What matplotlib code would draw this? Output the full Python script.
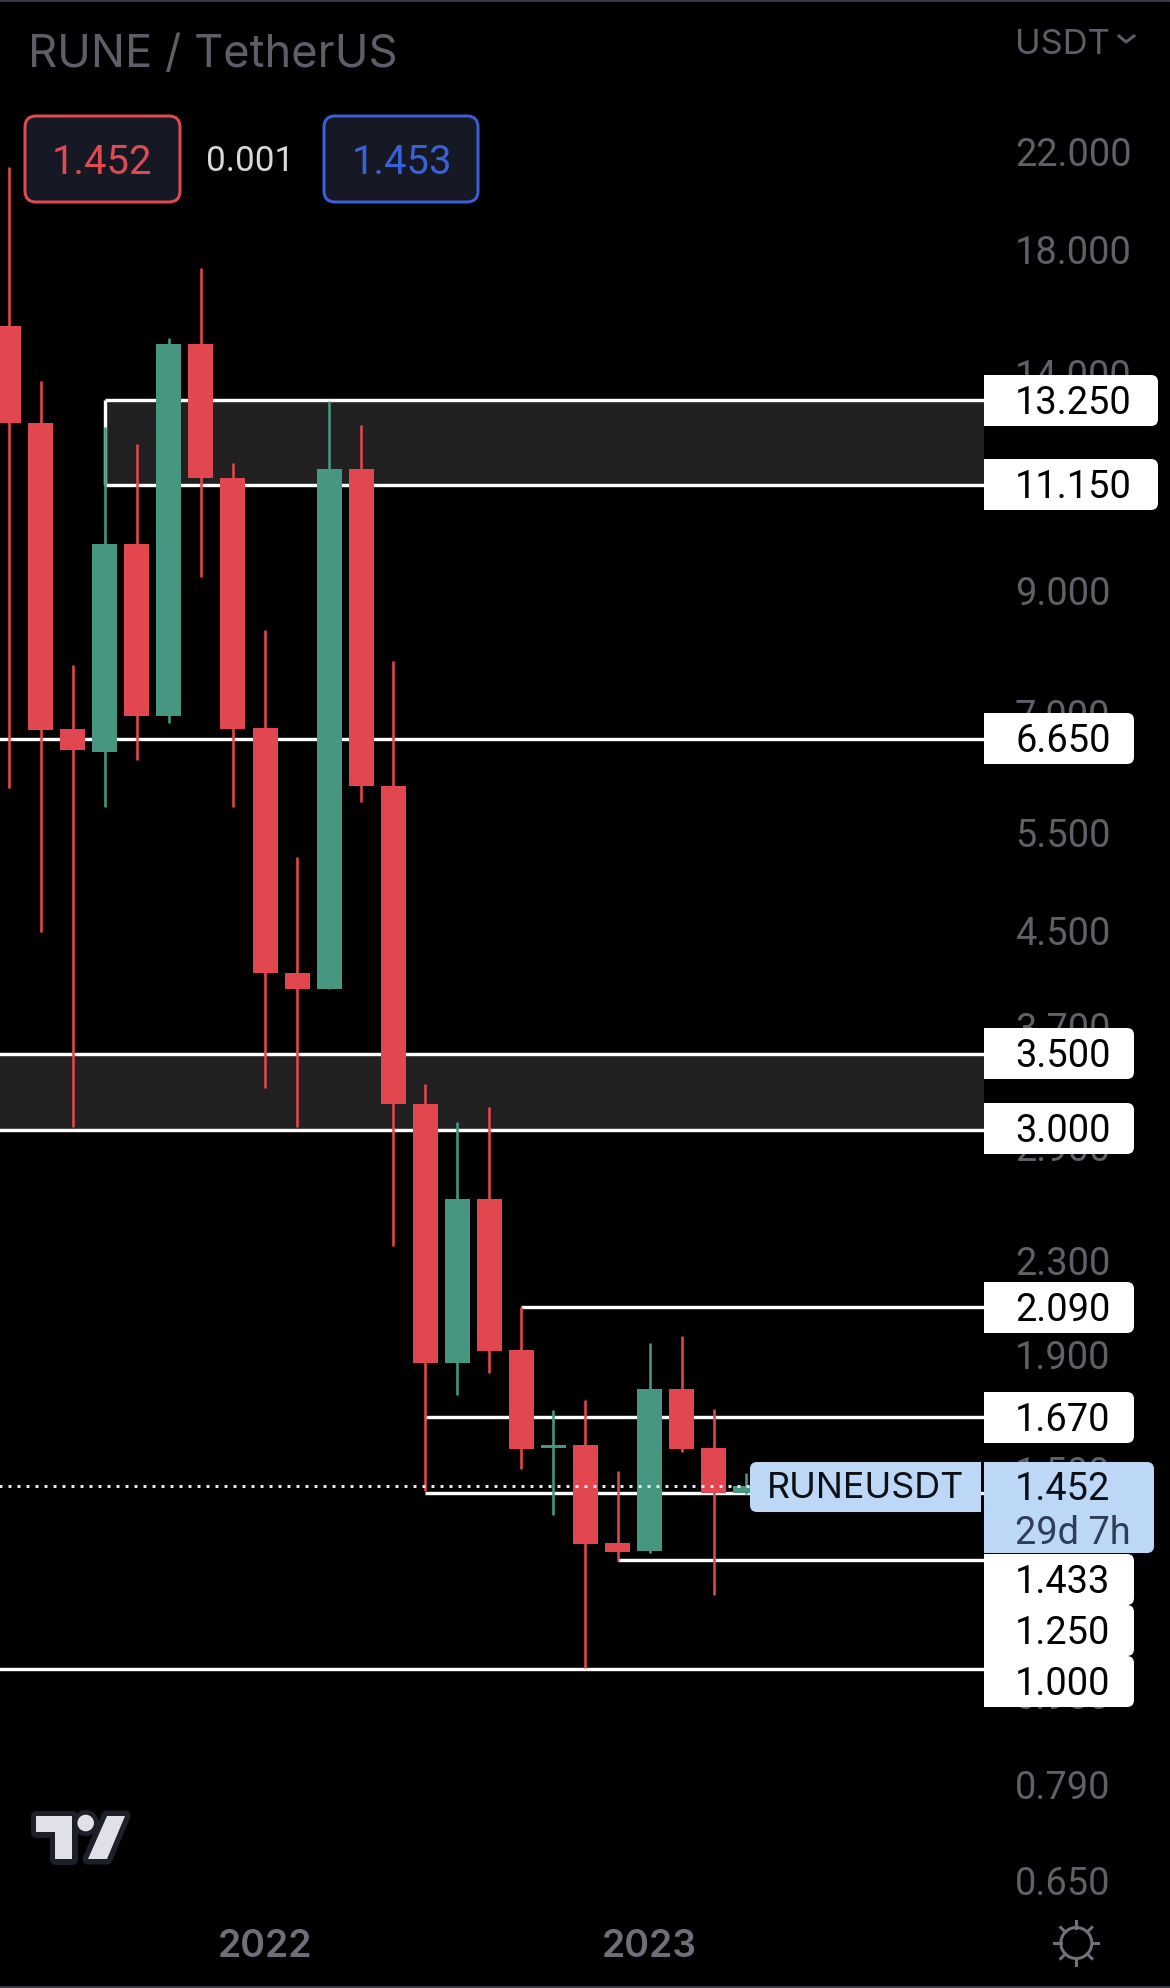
import matplotlib
matplotlib.use("Agg")
import matplotlib.pyplot as plt
from matplotlib.patches import FancyBboxPatch, Rectangle, Polygon, Circle
import math

plt.rcParams["font.family"] = ["Roboto", "DejaVu Sans"]

# monthly candles, RUNE / USDT
opens = [15.43, 12.64, 6.79, 6.479, 9.898, 6.973, 14.87, 11.32, 6.804, 4.131, 3.998, 11.51,
         6.046, 3.164, 1.867, 2.607, 1.917, 1.57, 1.58, 1.294, 1.273, 1.771, 1.57, 1.433]
highs = [21.33, 13.77, 7.735, 12.54, 12.11, 15.03, 17.33, 11.67, 8.307, 5.232, 13.24, 12.61,
         7.799, 3.295, 3.05, 3.144, 2.092, 1.696, 1.731, 1.498, 1.944, 1.972, 1.70, 1.492]
lows = [6.02, 4.491, 3.019, 5.793, 6.374, 6.873, 9.255, 5.793, 3.268, 3.019, 3.998, 5.852,
        2.369, 1.438, 1.749, 1.829, 1.504, 1.37, 1.003, 1.247, 1.268, 1.557, 1.164, 1.43]
closes = [12.64, 6.776, 6.505, 9.898, 6.973, 14.87, 11.30, 6.79, 4.131, 3.998, 11.51, 6.046,
          3.164, 1.867, 2.607, 1.913, 1.567, 1.58, 1.291, 1.27, 1.771, 1.567, 1.433, 1.452]

price_ticks = [22, 18, 14, 9, 7, 5.5, 4.5, 3.7, 2.9, 2.3, 1.9, 1.5, 0.95, 0.79, 0.65]
year_pos = [8, 20]
year_labels = ["2022", "2023"]

level_prices = [13.25, 11.15, 6.65, 3.5, 3.0, 2.09, 1.67, 1.433, 1.25, 1.0]
level_starts = [3, 3, -1, -1, -1, 16, 13, 13, 19, -1]
zones = [(11.15, 13.25, 3), (3.0, 3.5, -1)]
last_price = 1.452

W, H = 1170, 1988
RED = "#e2474f"
GREEN = "#469682"
GREY = "#5f6068"
LEVEL_END = 30.45  # where the price scale starts
NUM_SIZE = 38  # px
NUM_X = 1015


def px(v):
    # pixels to points, figure is at dpi 100
    return v * 0.72


fig = plt.figure(figsize=(W / 100, H / 100), dpi=100, facecolor="black")
ax = fig.add_axes([0, 0, 1, 1], facecolor="black")
ax.set_yscale("log")
ax.set_xlim(-0.27, 36.24)
ax.set_ylim(0.5225, 29.94)
for s in ax.spines.values():
    s.set_visible(False)

# price scale and years are the real axis ticks, drawn inside the axes
ax.yaxis.tick_right()
ax.set_yticks(price_ticks, ["%.3f" % t for t in price_ticks])
ax.minorticks_off()
ax.tick_params(axis="y", length=0, pad=px(NUM_X - W), labelcolor=GREY, labelsize=px(NUM_SIZE))
ax.set_xticks(year_pos, year_labels)
ax.tick_params(axis="x", length=0, pad=px(-41), labelcolor="#6e6f78", labelsize=px(37.5))
for t in ax.get_xticklabels():
    t.set_va("center")
    t.set_fontweight("semibold")
    t.set_family(["Inter", "DejaVu Sans"])

for lo, hi, start in zones:
    ax.fill_between([start, LEVEL_END], lo, hi, color="#212121", lw=0, zorder=1)
ax.vlines(3, 11.15, 13.25, color="white", lw=px(3.4), zorder=2)
ax.hlines(level_prices, level_starts, LEVEL_END, color="white", lw=px(3.4), zorder=2)

for i in range(len(opens)):
    col = GREEN if closes[i] >= opens[i] else RED
    ax.vlines(i, lows[i], highs[i], color=col, lw=px(2.6), zorder=3)
    ax.bar(i, abs(closes[i] - opens[i]), bottom=min(opens[i], closes[i]), width=0.78,
           color=col, lw=0, zorder=3)

ax.hlines(last_price, -1, 23.2, color="#dfe6ee", lw=px(3), linestyles=(0, (1, 2)), zorder=4)

# everything on top of the chart, in screen pixels
ui = fig.add_axes([0, 0, 1, 1], facecolor="none")
ui.set_xlim(0, W)
ui.set_ylim(H, 0)
ui.axis("off")


def tag(x0, y0, x1, y1, color, side="right"):
    # rounded on one side only
    ui.add_patch(FancyBboxPatch((x0 + 6, y0 + 6), x1 - x0 - 12, y1 - y0 - 12,
                                boxstyle="round,pad=6,rounding_size=7", fc=color, ec="none"))
    if side == "right":
        ui.add_patch(Rectangle((x0, y0), 30, y1 - y0, fc=color, ec="none"))
    else:
        ui.add_patch(Rectangle((x1 - 30, y0), 30, y1 - y0, fc=color, ec="none"))


tag_boxes = [(375, 426, 1158, "13.250"), (459, 510, 1158, "11.150"), (713, 764, 1134, "6.650"),
             (1028, 1079, 1134, "3.500"), (1103, 1154, 1134, "3.000"), (1282, 1333, 1134, "2.090"),
             (1392, 1443, 1134, "1.670"), (1554, 1605, 1134, "1.433"), (1605, 1656, 1134, "1.250"),
             (1656, 1707, 1134, "1.000")]
for y0, y1, x1, label in tag_boxes:
    tag(984, y0, x1, y1, "white")
    ui.text(NUM_X, (y0 + y1) / 2 - 1, label, color="black", fontsize=px(NUM_SIZE), ha="left", va="center_baseline")

tag(750, 1462, 981, 1512, "#bdd7f7", side="left")
ui.text(866, 1485, "RUNEUSDT", color="#0c0f14", fontsize=px(36), ha="center", va="center_baseline",
        family=["Inter", "DejaVu Sans"])
tag(984, 1462, 1154, 1553, "#bdd7f7")
ui.text(NUM_X, 1485, "1.452", color="#0c0f14", fontsize=px(NUM_SIZE), ha="left", va="center_baseline")
ui.text(NUM_X, 1529, "29d 7h", color="#2f3e58", fontsize=px(NUM_SIZE), ha="left", va="center_baseline")

# header
ui.text(28, 51, "RUNE / TetherUS", color="#5d5e68", fontsize=px(45.3), ha="left", va="center_baseline",
        family=["Inter", "DejaVu Sans"])
ui.text(1015, 41, "USDT", color="#5d5e68", fontsize=px(34.5), ha="left", va="center_baseline",
        family=["Inter", "DejaVu Sans"])
ui.plot([1119, 1126, 1134], [36, 42, 36], color="#5d5e68", lw=px(3))

ui.add_patch(FancyBboxPatch((35, 126), 135, 66, boxstyle="round,pad=10,rounding_size=11",
                            fc="#161924", ec="#e04a52", lw=px(3)))
ui.text(102, 158, "1.452", color="#e04a52", fontsize=px(40), ha="center", va="center_baseline")
ui.text(250, 158, "0.001", color="#d8d8d8", fontsize=px(35), ha="center", va="center_baseline")
ui.add_patch(FancyBboxPatch((334, 126), 134, 66, boxstyle="round,pad=10,rounding_size=11",
                            fc="#161924", ec="#3a5fd9", lw=px(3)))
ui.text(402, 158, "1.453", color="#3a62d8", fontsize=px(40), ha="center", va="center_baseline")

# tradingview logo
logo_dark = "#1e2029"
logo_light = "#dfe1e6"
logo_t = [(36, 1816), (72, 1816), (72, 1859), (55, 1859), (55, 1832), (36, 1832)]
logo_s = [(107, 1816), (125, 1816), (107, 1859), (88, 1859)]
for pts in (logo_t, logo_s):
    ui.add_patch(Polygon(pts, closed=True, fc=logo_light, ec=logo_dark, lw=px(11), joinstyle="round"))
ui.add_patch(Circle((85.7, 1823), 13, fc=logo_dark, ec="none"))
for pts in (logo_t, logo_s):
    ui.add_patch(Polygon(pts, closed=True, fc=logo_light, ec="none"))
ui.add_patch(Circle((85.7, 1823), 8.3, fc=logo_light, ec="none"))

# settings icon
gear = "#70717a"
ui.add_patch(Circle((1076.3, 1943), 15.5, fc="none", ec=gear, lw=px(3)))
for k in range(8):
    a = k * math.pi / 4
    ui.plot([1076.3 + 15.5 * math.cos(a), 1076.3 + 22 * math.cos(a)],
            [1943 + 15.5 * math.sin(a), 1943 + 22 * math.sin(a)], color=gear, lw=px(3))

# thin bars at top and bottom of the screenshot
ui.add_patch(Rectangle((0, 0), W, 2, fc="#363a45", ec="none"))
ui.add_patch(Rectangle((0, 1986), W, 2, fc="#363a45", ec="none"))

fig.savefig("out.png", dpi=100, facecolor="black")
